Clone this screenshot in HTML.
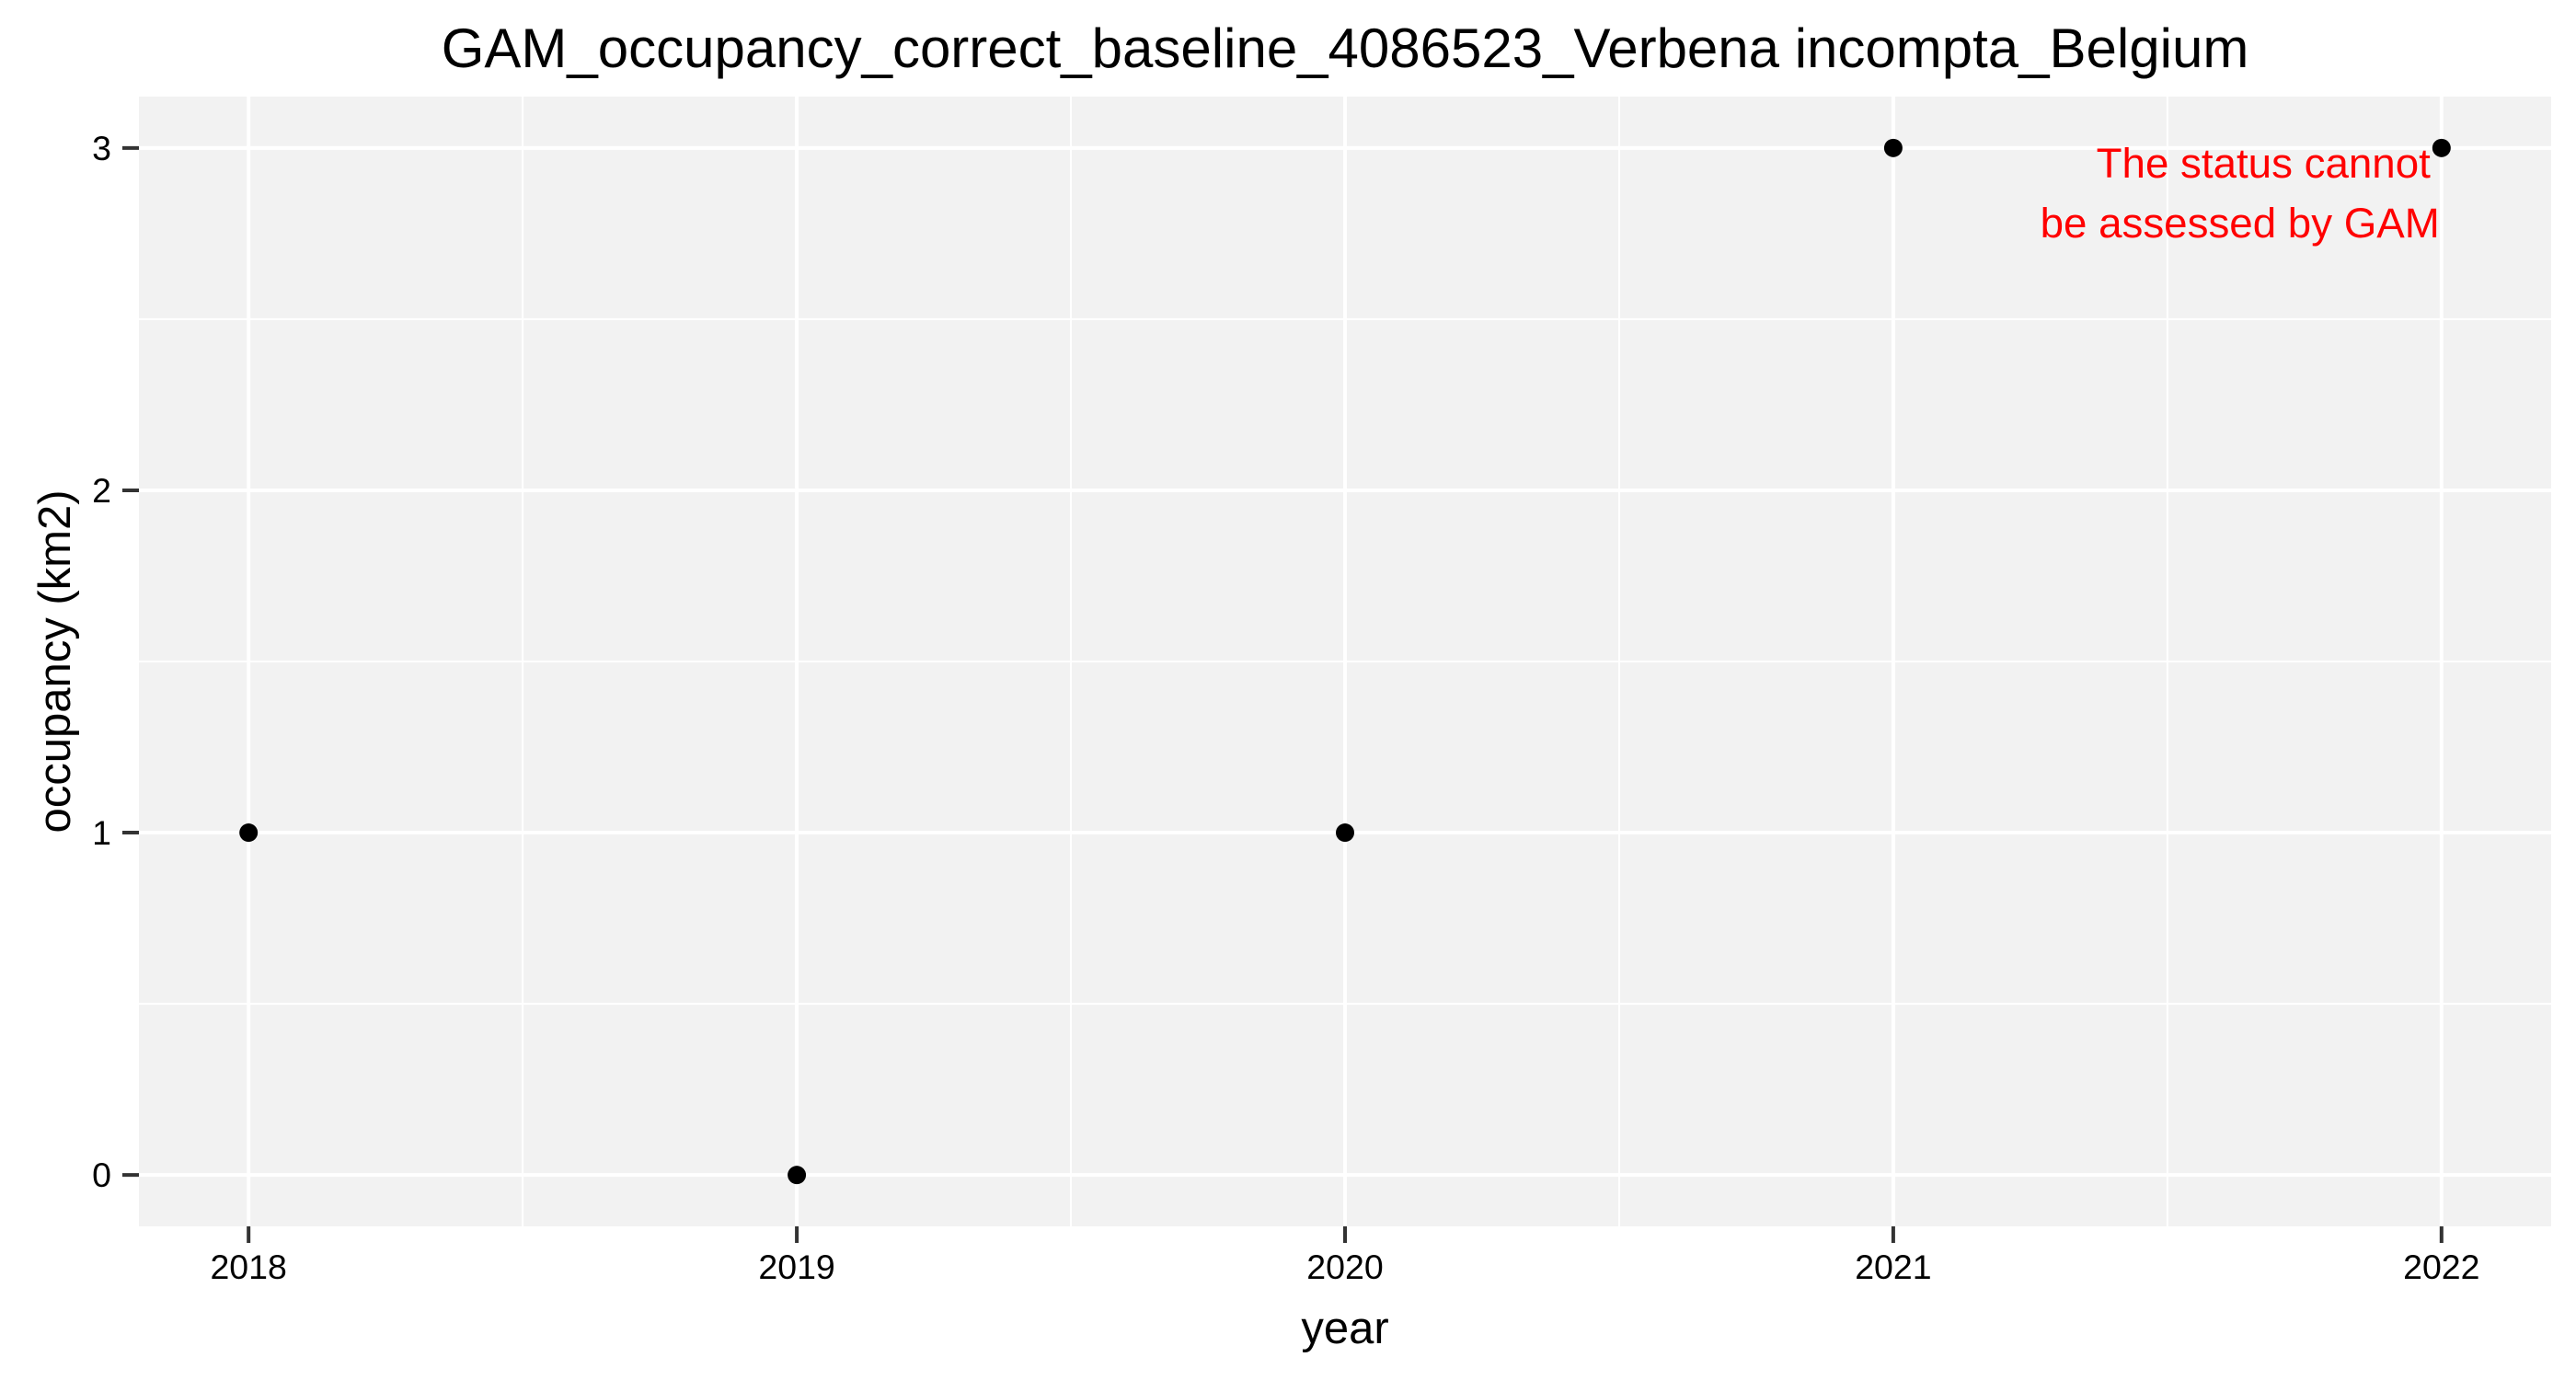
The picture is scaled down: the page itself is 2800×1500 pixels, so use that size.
<!DOCTYPE html>
<html><head><meta charset="utf-8"><style>html,body{margin:0;padding:0;background:#fff}svg{display:block}text{font-family:"Liberation Sans",Arial,sans-serif}</style></head>
<body>
<svg id="chart" width="2800" height="1500" viewBox="0 0 2800 1500">
<rect x="0" y="0" width="2800" height="1500" fill="#fff"/>
<text x="1462" y="73" font-size="60" text-anchor="middle" fill="#000">GAM_occupancy_correct_baseline_4086523_Verbena incompta_Belgium</text>
<g id="panel"></g>
<text x="1462" y="1460" font-size="49" text-anchor="middle" fill="#000">year</text>
<text transform="translate(76,719) rotate(-90)" font-size="49" text-anchor="middle" fill="#000">occupancy (km2)</text>
</svg>
<script>
const years = [2018, 2019, 2020, 2021, 2022];
const occupancy = [1, 0, 1, 3, 3];
const yTicks = [0, 1, 2, 3];
const xTickLabels = ["2018", "2019", "2020", "2021", "2022"];
const annotationLines = ["The status cannot", "be assessed by GAM"];

const NS = "http://www.w3.org/2000/svg";
const L = 151, R = 2773, T = 105, B = 1333;
const xMin = 2017.8, xMax = 2022.2, yMin = -0.15, yMax = 3.15;
const xs = v => L + (v - xMin) / (xMax - xMin) * (R - L);
const ys = v => B - (v - yMin) / (yMax - yMin) * (B - T);
const g = document.getElementById('panel');
function mk(tag, attrs) { const e = document.createElementNS(NS, tag); for (const k in attrs) e.setAttribute(k, attrs[k]); g.appendChild(e); return e; }

let e = mk('rect', {x: L, y: T, width: R - L, height: B - T, fill: '#F2F2F2'});



for (let i = 0; i < yTicks.length - 1; i++) {
  const v = (yTicks[i] + yTicks[i + 1]) / 2;
  e = mk('line', {x1: L, x2: R, y1: ys(v), y2: ys(v), stroke: '#fff', 'stroke-width': 2});
  
  
}
for (let i = 0; i < years.length - 1; i++) {
  const v = (years[i] + years[i + 1]) / 2;
  e = mk('line', {x1: xs(v), x2: xs(v), y1: T, y2: B, stroke: '#fff', 'stroke-width': 2});
  
  
}
yTicks.forEach(v => {
  const y = ys(v);
  e = mk('line', {x1: L, x2: R, y1: y, y2: y, stroke: '#fff', 'stroke-width': 4});
  
  
  e = mk('line', {x1: L - 18, x2: L, y1: y, y2: y, stroke: '#333', 'stroke-width': 4});
  
  
  e = mk('text', {x: L - 30, y: y + 13, 'font-size': 37.5, 'text-anchor': 'end', fill: '#000'});
  e.textContent = String(v);
  
  
});
years.forEach((v, i) => {
  const x = xs(v);
  e = mk('line', {x1: x, x2: x, y1: T, y2: B, stroke: '#fff', 'stroke-width': 4});
  
  
  e = mk('line', {x1: x, x2: x, y1: B, y2: B + 18, stroke: '#333', 'stroke-width': 4});
  
  
  e = mk('text', {x: x, y: 1390, 'font-size': 37.5, 'text-anchor': 'middle', fill: '#000'});
  e.textContent = xTickLabels[i];
  
  
});
years.forEach((v, i) => {
  e = mk('circle', {cx: xs(v), cy: ys(occupancy[i]), r: 10, fill: '#000'});
  
  
});
const ax = xs(years[years.length - 1]);
annotationLines.forEach((t, i) => {
  e = mk('text', {x: i === 0 ? ax - 12 : ax - 2, y: 193 + i * 65, 'font-size': 45.7, 'text-anchor': 'end', fill: '#FF0000'});
  e.textContent = t;
  
  
});
</script>
</body></html>
